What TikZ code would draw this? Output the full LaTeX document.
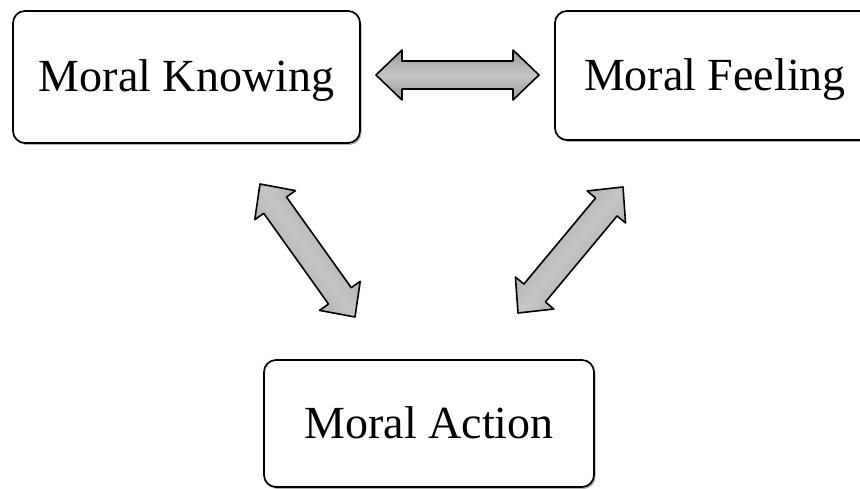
\documentclass[tikz,border=0pt]{standalone}
\usepackage{fontspec}
\setmainfont{Liberation Serif}
\usepackage{tikz}
\usetikzlibrary{calc}
\usetikzlibrary{shapes}
\usetikzlibrary{shadows}
\usetikzlibrary{positioning}

\tikzset{
  moralbox/.style={draw=black, line width=1.7pt, rounded corners=12pt, fill=white,
    drop shadow={shadow xshift=1.5pt, shadow yshift=-2pt, opacity=0.3, fill=black},
    inner sep=0pt, text height=30pt, text depth=0pt,
    font=\fontsize{46}{54}\selectfont},
  fatarrow/.style={draw=black, line width=1.6pt, line join=round,
    top color=gray!80, bottom color=gray!80, middle color=gray!45}
}

% fat two-way arrow between the tips #1 and #2, shading turned by #3
\newcommand{\twowayarrow}[3]{%
  \path[fatarrow, shading angle=#3] (#1)
    -- ($(#1)!26pt!(#2)!25pt!90:(#2)$)
    -- ($(#1)!26pt!(#2)!14pt!90:(#2)$)
    -- ($(#2)!26pt!(#1)!14pt!-90:(#1)$)
    -- ($(#2)!26pt!(#1)!25pt!-90:(#1)$)
    -- (#2)
    -- ($(#2)!26pt!(#1)!25pt!90:(#1)$)
    -- ($(#2)!26pt!(#1)!14pt!90:(#1)$)
    -- ($(#1)!26pt!(#2)!14pt!-90:(#2)$)
    -- ($(#1)!26pt!(#2)!25pt!-90:(#2)$)
    -- cycle;
}

\begin{document}
\begin{tikzpicture}[x=1pt, y=-1pt]
  \useasboundingbox (0,0) rectangle (860,489);
  \clip (0,0) rectangle (860,489);

  \node[moralbox, minimum width=347pt, minimum height=132pt] (know) at (186.5,77) {Moral Knowing};
  \node[moralbox, minimum width=320pt, minimum height=129pt] (feel) at (715,75.5) {Moral Feeling};
  \node[moralbox, minimum width=330pt, minimum height=127pt] (act) at (429,423.5) {Moral Action};

  \coordinate (kf1) at (376,75);
  \coordinate (kf2) at (539,75);
  \coordinate (ka1) at (260,184);
  \coordinate (ka2) at (355,317);
  \coordinate (fa1) at (623,187);
  \coordinate (fa2) at (518,313);

  \twowayarrow{kf1}{kf2}{0}
  \twowayarrow{ka1}{ka2}{-54.5}
  \twowayarrow{fa1}{fa2}{50.2}
\end{tikzpicture}
\end{document}
